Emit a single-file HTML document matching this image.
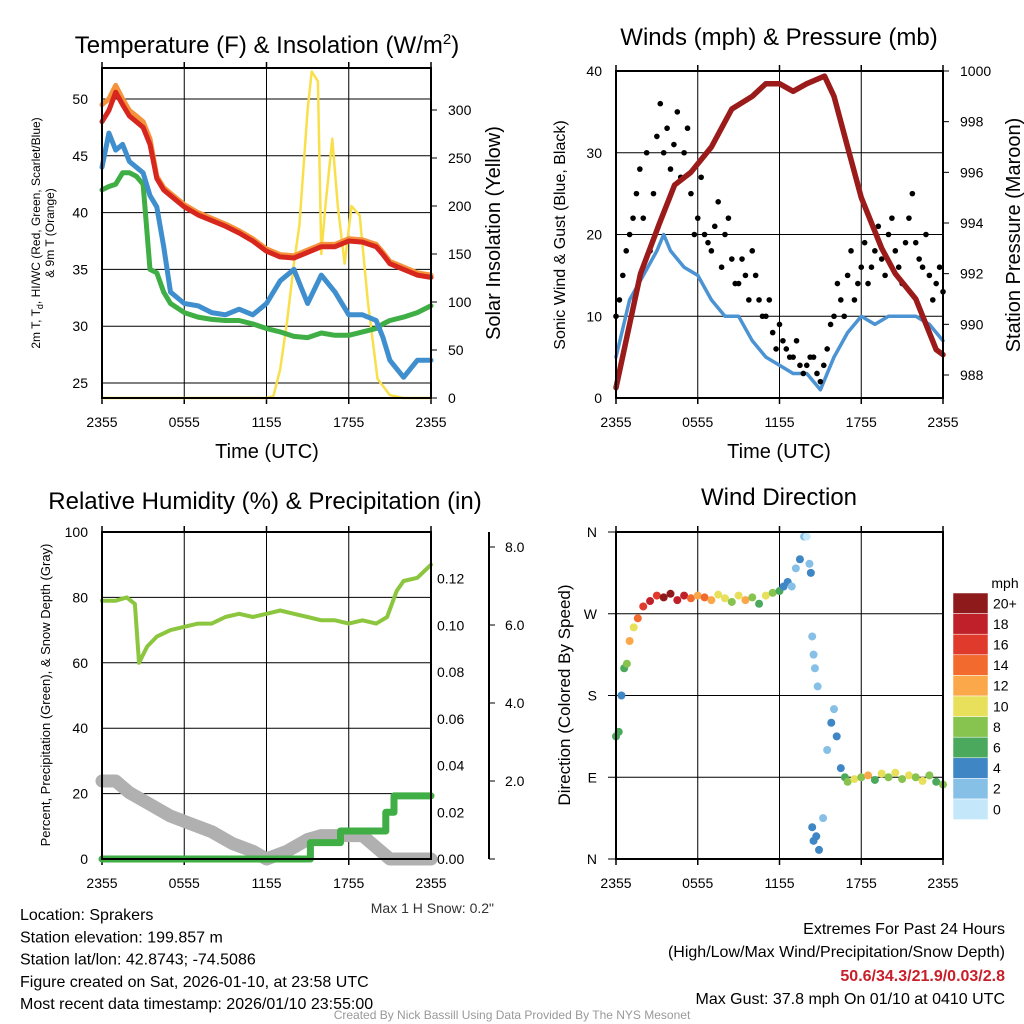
<!DOCTYPE html>
<html><head><meta charset="utf-8"><style>
html,body{margin:0;padding:0;background:#fff;}
svg{display:block;font-family:"Liberation Sans",sans-serif;}
</style></head><body>
<svg id="s" width="1024" height="1024" viewBox="0 0 1024 1024"></svg>
<script>
// ---------- DATA ----------
const hourTicks=["2355","0555","1155","1755","2355"];
const tT=[0,0.5,1,1.5,2,2.5,3,3.5,4,4.5,5,6,7,8,9,10,11,12,13,14,15,16,17,18,19,20,20.5,21,22,23,24];
const temp2m=[48,49,50.6,49.5,48.5,48,47.5,46,43,42,41.5,40.5,39.8,39.3,38.8,38.2,37.5,36.6,36.1,36.0,36.5,37.0,37.0,37.5,37.4,37.0,36.3,35.5,35.0,34.5,34.3];
const temp9m=[49.5,50,51.2,50,49,48.5,48,46.5,43.2,42.2,41.7,40.7,40,39.5,39,38.4,37.7,36.8,36.3,36.2,36.7,37.2,37.2,37.7,37.6,37.2,36.5,35.7,35.2,34.7,34.5];
const dewpt=[42,42.3,42.5,43.5,43.5,43.2,42.5,35,34.7,33,32,31.2,30.8,30.6,30.5,30.5,30.2,29.8,29.5,29.1,29.0,29.4,29.2,29.2,29.5,29.8,30.2,30.5,30.8,31.2,31.8];
const windchill=[44,47,45.5,46,44.5,44,43.5,41.5,40.5,37,33,32,31.8,31.2,31,31.5,31,32,34,35,32,34.5,33,31,31,30.5,29,27,25.5,27,27];
const tSol=[0,12,12.5,13,13.5,14,14.4,15,15.3,15.75,16,16.3,16.8,17.2,17.7,18.2,18.8,19.4,20.1,21,22,24];
const solar=[0,0,2,30,80,140,180,300,340,330,150,200,270,200,140,200,190,100,20,3,0,0];
const tW=[0,1,2,3,3.5,4,5,6,7,8,9,10,11,12,13,14,15,16,17,18,19,20,21,22,23,24];
const wind=[5,12,15,18,20,18,16,15,12,10,10,7,5,4,3,3,1,5,8,10,9,10,10,10,9,7];
const tG=[0,0.5,1,1.5,2,2.5,3,3.5,4,4.5,5,5.5,6,6.5,7,7.5,8,8.5,9,9.5,10,10.5,11,11.5,12,12.5,13,13.5,14,14.5,15,15.5,16,16.5,17,17.5,18,18.5,19,19.5,20,20.5,21,21.5,22,22.5,23,23.5,24];
const gust=[10,15,20,25,22,18,32,30,28,35,30,25,22,20,18,24,20,17,14,15,18,12,10,8,9,6,5,4,4,5,2,6,10,12,15,12,16,14,18,17,20,18,14,22,19,16,15,14,13];
const tG2=[0.25,0.75,1.25,1.75,2.25,2.75,3.25,3.75,4.25,4.75,5.25,5.75,6.25,6.75,7.25,7.75,8.25,8.75,9.25,9.75,10.25,10.75,11.25,11.75,12.25,12.75,13.25,13.75,14.25,14.75,15.25,15.75,16.25,16.75,17.25,17.75,18.25,18.75,19.25,19.75,20.25,20.75,21.25,21.75,22.25,22.75,23.25,23.75];
const gust2=[12,18,22,28,30,25,36,33,31,27,33,20,27,19,21,16,22,14,17,12,15,10,12,6,7,5,7,3,5,3,4,9,14,10,18,14,19,16,21,15,22,16,19,25,17,20,12,16];
const tP=[0,1,1.8,3.2,4.3,5.5,7,8.5,10,11,12,13,14,15.3,16,17,18,19.5,20.5,22,23.5,24];
const pressure=[987.5,990,992,994,995.5,996,997,998.5,999,999.5,999.5,999.2,999.5,999.8,999,997,995,993,992,991,989,988.8];
const tRH=[0,1,1.8,2.4,2.7,3.3,4,5,6,7,8,9,10,11,12,13,14,15,16,17,18,19,20,20.8,21.5,22,23,24];
const rh=[79,79,80,78,60,65,68,70,71,72,72,74,75,74,75,76,75,74,73,73,72,73,72,74,82,85,86,90];
const tPr=[0,15.2,15.2,17.4,17.4,20.7,20.7,21.3,21.3,24];
const precip=[0,0,0.007,0.007,0.012,0.012,0.02,0.02,0.027,0.027];
const tSn=[0,1,2,3.5,5,6.5,8,9.5,11,12,13.5,15,16,19,20,21,24];
const snow=[2.0,2.0,1.7,1.4,1.1,0.9,0.7,0.4,0.2,0.0,0.2,0.5,0.6,0.6,0.3,0,0];
const tD=[0,0.2,0.4,0.6,0.8,1.0,1.3,1.6,2,2.5,3,3.5,4,4.5,5,5.5,6,6.5,7,7.5,8,8.5,9,9.5,10,10.5,11,11.5,12,12.3,12.6,12.9,13.2,13.5,13.8,14,14.2,14.3,14.4,14.5,14.6,14.8,14.4,14.5,14.7,14.9,15.2,15.5,15.8,16.0,16.2,16.5,16.8,17,17.5,18,18.5,19,19.5,20,20.5,21,21.5,22,22.5,23,23.5,24];
const dirDeg=[135,140,180,210,215,240,255,265,278,284,290,288,292,285,290,287,290,288,285,291,287,283,290,285,288,281,290,293,295,300,305,300,320,330,355,355,325,315,245,225,210,190,35,20,25,10,45,120,150,165,135,100,90,85,88,90,92,87,94,90,95,88,92,90,86,92,85,82];
const dirSpd=[5,6,4,6,8,12,10,14,16,18,16,20,20,18,18,14,12,14,12,10,10,8,10,12,8,6,10,8,6,4,4,2,2,3,1,0,2,3,2,2,2,1,3,4,3,3,1,2,3,2,4,3,6,8,10,8,12,6,10,8,10,8,10,8,10,8,6,8];
const cbLabels=["20+","18","16","14","12","10","8","6","4","2","0"];
const cbColors=["#8e1a1c","#c0202a","#e03a2c","#f26a2e","#fba84a","#e8e05a","#86c34f","#4aa95c","#3f86c4","#86c0e6","#c4e8fa"];

// ---------- HELPERS ----------
const NS="http://www.w3.org/2000/svg";
const S=document.getElementById('s');
function mk(tag,attrs,parent){const e=document.createElementNS(NS,tag);for(const k in attrs)e.setAttribute(k,attrs[k]);(parent||S).appendChild(e);return e;}
function txt(x,y,s,size,anchor,parent,extra){const e=mk('text',Object.assign({x:x,y:y,'font-size':size,'text-anchor':anchor||'middle',fill:'#000'},extra||{}),parent);e.textContent=s;return e;}
function lin(a,b,c,d){return function(v){return c+(v-a)*(d-c)/(b-a);};}
function path(xs,ys,fx,fy){return xs.map((t,i)=>(i?'L':'M')+fx(t).toFixed(1)+','+fy(ys[i]).toFixed(1)).join('');}
function frame(x0,y0,x1,y1,g){
  const r=mk('rect',{x:x0,y:y0,width:x1-x0,height:y1-y0,fill:'none',stroke:'#000','stroke-width':2},g);
  
}
function xAxis(x0,x1,y0,y1,g){
  const fx=lin(0,24,x0,x1);
  hourTicks.forEach((l,i)=>{const x=fx(i*6);
    mk('line',{x1:x,x2:x,y1:y0,y2:y1,stroke:'#000','stroke-width':1},g);
    mk('line',{x1:x,x2:x,y1:y0-6,y2:y0,stroke:'#000','stroke-width':1.5},g);
    mk('line',{x1:x,x2:x,y1:y1,y2:y1+6,stroke:'#000','stroke-width':1.5},g);
    const t=txt(x,y1+29,l,14,'middle',g);});
  return fx;
}
function hgrid(vals,fy,x0,x1,g,labX,anchor,fmt){
  vals.forEach(v=>{const y=fy(v);mk('line',{x1:x0,x2:x1,y1:y,y2:y,stroke:'#000','stroke-width':1},g);
    if(labX!=null){const t=txt(labX,y+5,fmt?fmt(v):String(v),14,anchor,g);}});
}
function rtext(x,y,s,size,g){const e=txt(x,y,s,size,'middle',g,{transform:'rotate(-90 '+x+' '+y+')'});return e;}
function line(g,xs,ys,fx,fy,color,w,name){const p=mk('path',{d:path(xs,ys,fx,fy),fill:'none',stroke:color,'stroke-width':w,'stroke-linejoin':'round','stroke-linecap':'round'},g);return p;}

// ---------- PANEL 1 ----------
(function(){
  const g=mk('g',{});
  const x0=102,x1=431,y0=68,y1=398;
  const fx=xAxis(x0,x1,y0,y1,g);
  const fy=lin(25,50,383,99), fs=lin(0,300,398,110);
  hgrid([25,30,35,40,45,50],fy,x0,x1,g,88,'end');
  [0,50,100,150,200,250,300].forEach(v=>{const y=fs(v);mk('line',{x1:x1,x2:x1+6,y1:y,y2:y,stroke:'#000'},g);const t=txt(x1+17,y+5,String(v),14,'start',g);});
  line(g,tSol,solar,fx,fs,'#f9e04b',2.5,'solar-insolation-line');
  line(g,tT,dewpt,fx,fy,'#3fae45',5,'dewpoint-line');
  line(g,tT,windchill,fx,fy,'#3f8fce',5,'windchill-line');
  line(g,tT,temp9m,fx,fy,'#f5923a',5,'temp-9m-line');
  line(g,tT,temp2m,fx,fy,'#d7261e',5,'temp-2m-line');
  frame(x0,y0,x1,y1,g);
  const t=txt(267,53,'Temperature (F) & Insolation (W/m',24,'middle',g);const sp=mk('tspan',{dy:-9,'font-size':15},t);sp.textContent='2';const sp2=mk('tspan',{dy:9},t);sp2.textContent=')';
  
  const a=rtext(40,233,'2m T, T',12,g);const d=mk('tspan',{dy:3,'font-size':9},a);d.textContent='d';const d2=mk('tspan',{dy:-3},a);d2.textContent=', HI/WC (Red, Green, Scarlet/Blue)';
  
  const b=rtext(54,233,'& 9m T (Orange)',12,g);
  const c=rtext(500,233,'Solar Insolation (Yellow)',20,g);
  const e=txt(267,458,'Time (UTC)',20,'middle',g);
})();

// ---------- PANEL 2 ----------
(function(){
  const g=mk('g',{});
  const x0=616,x1=943,y0=71,y1=398;
  const fx=xAxis(x0,x1,y0,y1,g);
  const fy=lin(0,40,398,71), fp=lin(988,1000,375,71);
  hgrid([0,10,20,30,40],fy,x0,x1,g,602,'end');
  [988,990,992,994,996,998,1000].forEach(v=>{const y=fp(v);mk('line',{x1:x1,x2:x1+6,y1:y,y2:y,stroke:'#000'},g);const t=txt(x1+17,y+5,String(v),14,'start',g);});
  line(g,tW,wind,fx,fy,'#4b93d2',3.5,'wind-speed-line');
  tG.forEach((t,i)=>{const c=mk('circle',{cx:fx(t),cy:fy(gust[i]),r:2.8,fill:'#000'},g);
    
    });
  tG2.forEach((t,i)=>{const c=mk('circle',{cx:fx(t),cy:fy(gust2[i]),r:2.8,fill:'#000'},g);
    
    });
  line(g,tP,pressure,fx,fp,'#9b1b1b',5.5,'pressure-line');
  frame(x0,y0,x1,y1,g);
  const t=txt(779,45,'Winds (mph) & Pressure (mb)',24,'middle',g);
  const a=rtext(565,235,'Sonic Wind & Gust (Blue, Black)',16,g);
  const b=rtext(1020,235,'Station Pressure (Maroon)',20,g);
  const e=txt(779,458,'Time (UTC)',20,'middle',g);
})();

// ---------- PANEL 3 ----------
(function(){
  const g=mk('g',{});
  const x0=102,x1=431,y0=532,y1=859;
  const fx=xAxis(x0,x1,y0,y1,g);
  const fy=lin(0,100,859,532), fpr=lin(0,0.14,859,532), fsn=lin(0,8,859,547);
  hgrid([0,20,40,60,80,100],fy,x0,x1,g,88,'end');
  [0,0.02,0.04,0.06,0.08,0.10,0.12].forEach(v=>{const y=fpr(v);const t=txt(x1+6,y+5,v.toFixed(2),14,'start',g);});
  mk('line',{x1:489,x2:489,y1:532,y2:859,stroke:'#000','stroke-width':2},g);
  [0,2,4,6,8].forEach(v=>{const y=fsn(v);mk('line',{x1:489,x2:495,y1:y,y2:y,stroke:'#000'},g);if(v>0){const t=txt(505,y+5,v.toFixed(1),14,'start',g);}});
  line(g,tSn,snow,fx,fsn,'#b0b0b0',13,'snow-depth-line');
  line(g,tRH,rh,fx,fy,'#8cc63f',4,'relative-humidity-line');
  line(g,tPr,precip,fx,fpr,'#3fae45',7,'precipitation-line');
  frame(x0,y0,x1,y1,g);
  const t=txt(265,509,'Relative Humidity (%) & Precipitation (in)',24,'middle',g);
  const a=rtext(50,695,'Percent, Precipitation (Green), & Snow Depth (Gray)',13,g);
  const b=txt(494,913,'Max 1 H Snow: 0.2"',14,'end',g,{fill:'#333'});
})();

// ---------- PANEL 4 ----------
(function(){
  const g=mk('g',{});
  const x0=616,x1=943,y0=532,y1=859;
  const fx=xAxis(x0,x1,y0,y1,g);
  const fy=lin(0,360,859,532);
  const lbl=["N","E","S","W","N"];
  [0,90,180,270,360].forEach((v,i)=>{const y=fy(v);mk('line',{x1:x0-8,x2:x1,y1:y,y2:y,stroke:'#000'},g);const t=txt(597,y+5,lbl[i],14,'end',g);});
  function col(s){const idx=Math.min(10,Math.round(s/2));return cbColors[10-idx];}
  tD.forEach((t,i)=>{const c=mk('circle',{cx:fx(t),cy:fy(dirDeg[i]),r:4,fill:col(dirSpd[i])},g);
    
    });
  frame(x0,y0,x1,y1,g);
  const t=txt(779,505,'Wind Direction',24,'middle',g);
  const a=rtext(570,695,'Direction (Colored By Speed)',17,g);
  const cb=mk('g',{},g);
  const m=txt(1005,588,'mph',14,'middle',cb);
  const h=20.6;
  cbLabels.forEach((l,i)=>{const y=593+i*h;mk('rect',{x:953,y:y,width:35,height:h,fill:cbColors[i],stroke:'#fff','stroke-width':0.5},cb);
    const t=txt(993,y+h/2+5,l,14,'start',cb);});
})();

// ---------- FOOTER ----------
(function(){
  const g=mk('g',{});
  const L=["Location: Sprakers","Station elevation: 199.857 m","Station lat/lon: 42.8743; -74.5086","Figure created on Sat, 2026-01-10, at 23:58 UTC","Most recent data timestamp: 2026/01/10 23:55:00"];
  L.forEach((s,i)=>{const t=txt(20,920+i*22.3,s,16,'start',g);});
  const r1=txt(1005,934,'Extremes For Past 24 Hours',16,'end',g);
  const r2=txt(1005,957,'(High/Low/Max Wind/Precipitation/Snow Depth)',16,'end',g);
  const r3=txt(1005,981,'50.6/34.3/21.9/0.03/2.8',16,'end',g,{fill:'#c8202a','font-weight':'bold'});
  const r4=txt(1005,1004,'Max Gust: 37.8 mph On 01/10 at 0410 UTC',16,'end',g);
  const w=txt(512,1019,'Created By Nick Bassill Using Data Provided By The NYS Mesonet',12,'middle',g,{fill:'#999'});
})();
</script>
</body></html>
